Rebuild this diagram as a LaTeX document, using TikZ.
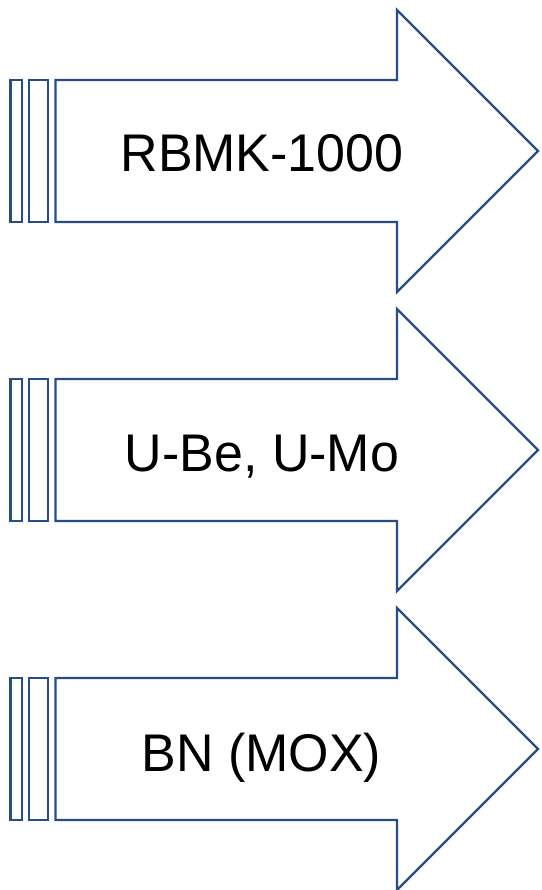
\documentclass[tikz,border=0pt]{standalone}
\usepackage{fontspec}
\setmainfont{Liberation Sans}
\definecolor{arrowblue}{RGB}{38,78,133}
\tikzset{
  outline/.style={draw=arrowblue, line width=2.4pt, fill=white, line join=miter},
  lbl/.style={anchor=base, font=\fontsize{53}{53}\selectfont, text=black, inner sep=0pt, xscale=0.98}
}
\newcommand{\stripedarrow}[1]{%
  \begin{scope}[yshift=-#1pt]
    \draw[outline] (10.5pt,-80pt) rectangle (22pt,-222pt);
    \draw[outline] (29pt,-80pt) rectangle (48pt,-222pt);
    \draw[outline] (55.5pt,-80pt) -- (397pt,-80pt) -- (397pt,-10pt) -- (538pt,-151pt)
      -- (397pt,-292pt) -- (397pt,-222pt) -- (55.5pt,-222pt) -- cycle;
  \end{scope}}
\begin{document}
\begin{tikzpicture}[x=1pt,y=1pt]
  \useasboundingbox (0,0) rectangle (541,-890);
  \stripedarrow{0}
  \stripedarrow{299}
  \stripedarrow{598}
  \node[lbl] (t1) at (262,-171.7) {RBMK-1000};
  \node[lbl] (t2) at (262,-471.7) {U-Be, U-Mo};
  \node[lbl] (t3) at (261.5,-771.7) {BN (MOX)};
\end{tikzpicture}
\end{document}
